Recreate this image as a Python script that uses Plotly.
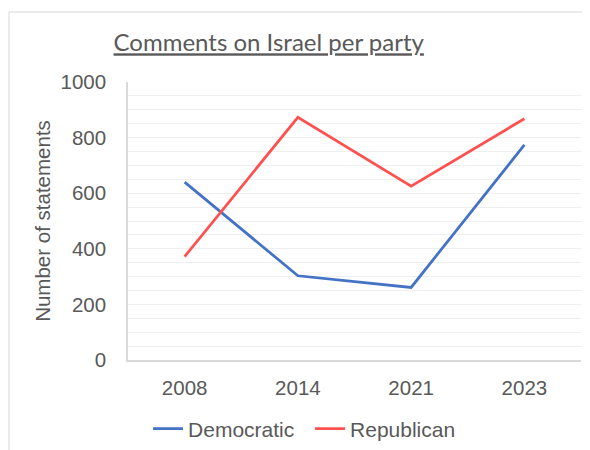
import plotly.graph_objects as go

years = ["2008", "2014", "2021", "2023"]
democratic = [640, 303, 261, 774]
republican = [372, 873, 625, 868]
y_ticks = [0, 200, 400, 600, 800, 1000]

fig = go.Figure()
fig.add_trace(go.Scatter(x=years, y=democratic, mode="lines", name="Democratic",
                         line=dict(color="#4472C4", width=2.75)))
fig.add_trace(go.Scatter(x=years, y=republican, mode="lines", name="Republican",
                         line=dict(color="#FF5050", width=2.75)))

tick_font = dict(family="Liberation Sans, Arial, sans-serif", size=20.5, color="#595959")
legend_font = dict(family="Liberation Sans, Arial, sans-serif", size=21, color="#595959")

W, H = 582, 442
fig.update_layout(
    width=W, height=H,
    margin=dict(l=120, r=9, t=74, b=90, autoexpand=False),
    paper_bgcolor="white", plot_bgcolor="white",
    title=dict(text="<u>Comments on Israel per party</u>", x=0.448, xref="container",
               xanchor="center", y=0.921, yref="container", yanchor="middle",
               font=dict(family="Lato, sans-serif", size=24, color="#595959")),
    xaxis=dict(type="category", range=[-0.5, 3.5], showgrid=False,
               showline=True, linecolor="#D9D9D9", linewidth=1.5,
               ticks="", tickfont=tick_font, ticklabelstandoff=9, fixedrange=True),
    yaxis=dict(range=[0, 1000], tickvals=y_ticks, showgrid=True, gridcolor="#EFEFEF",
               gridwidth=1, zeroline=False,
               minor=dict(dtick=50, showgrid=True, gridcolor="#EFEFEF", gridwidth=1),
               showline=True, linecolor="#D9D9D9", linewidth=1.5,
               ticks="", tickfont=tick_font, ticklabelstandoff=16,
               title=dict(text="Number of statements", font=tick_font, standoff=4),
               automargin=False, fixedrange=True),
    legend=dict(orientation="h", x=0.519, xanchor="center", xref="container",
                y=0.0475, yanchor="middle", yref="container",
                font=legend_font, tracegroupgap=0,
                entrywidth=117, entrywidthmode="pixels"),
    shapes=[dict(type="rect", xref="paper", yref="paper",
                 x0=-0.2627, x1=1.05, y0=-0.4, y1=1.2518,
                 line=dict(color="#D9D9D9", width=1), fillcolor="rgba(0,0,0,0)",
                 layer="below")],
)

fig.write_html("out.html")
